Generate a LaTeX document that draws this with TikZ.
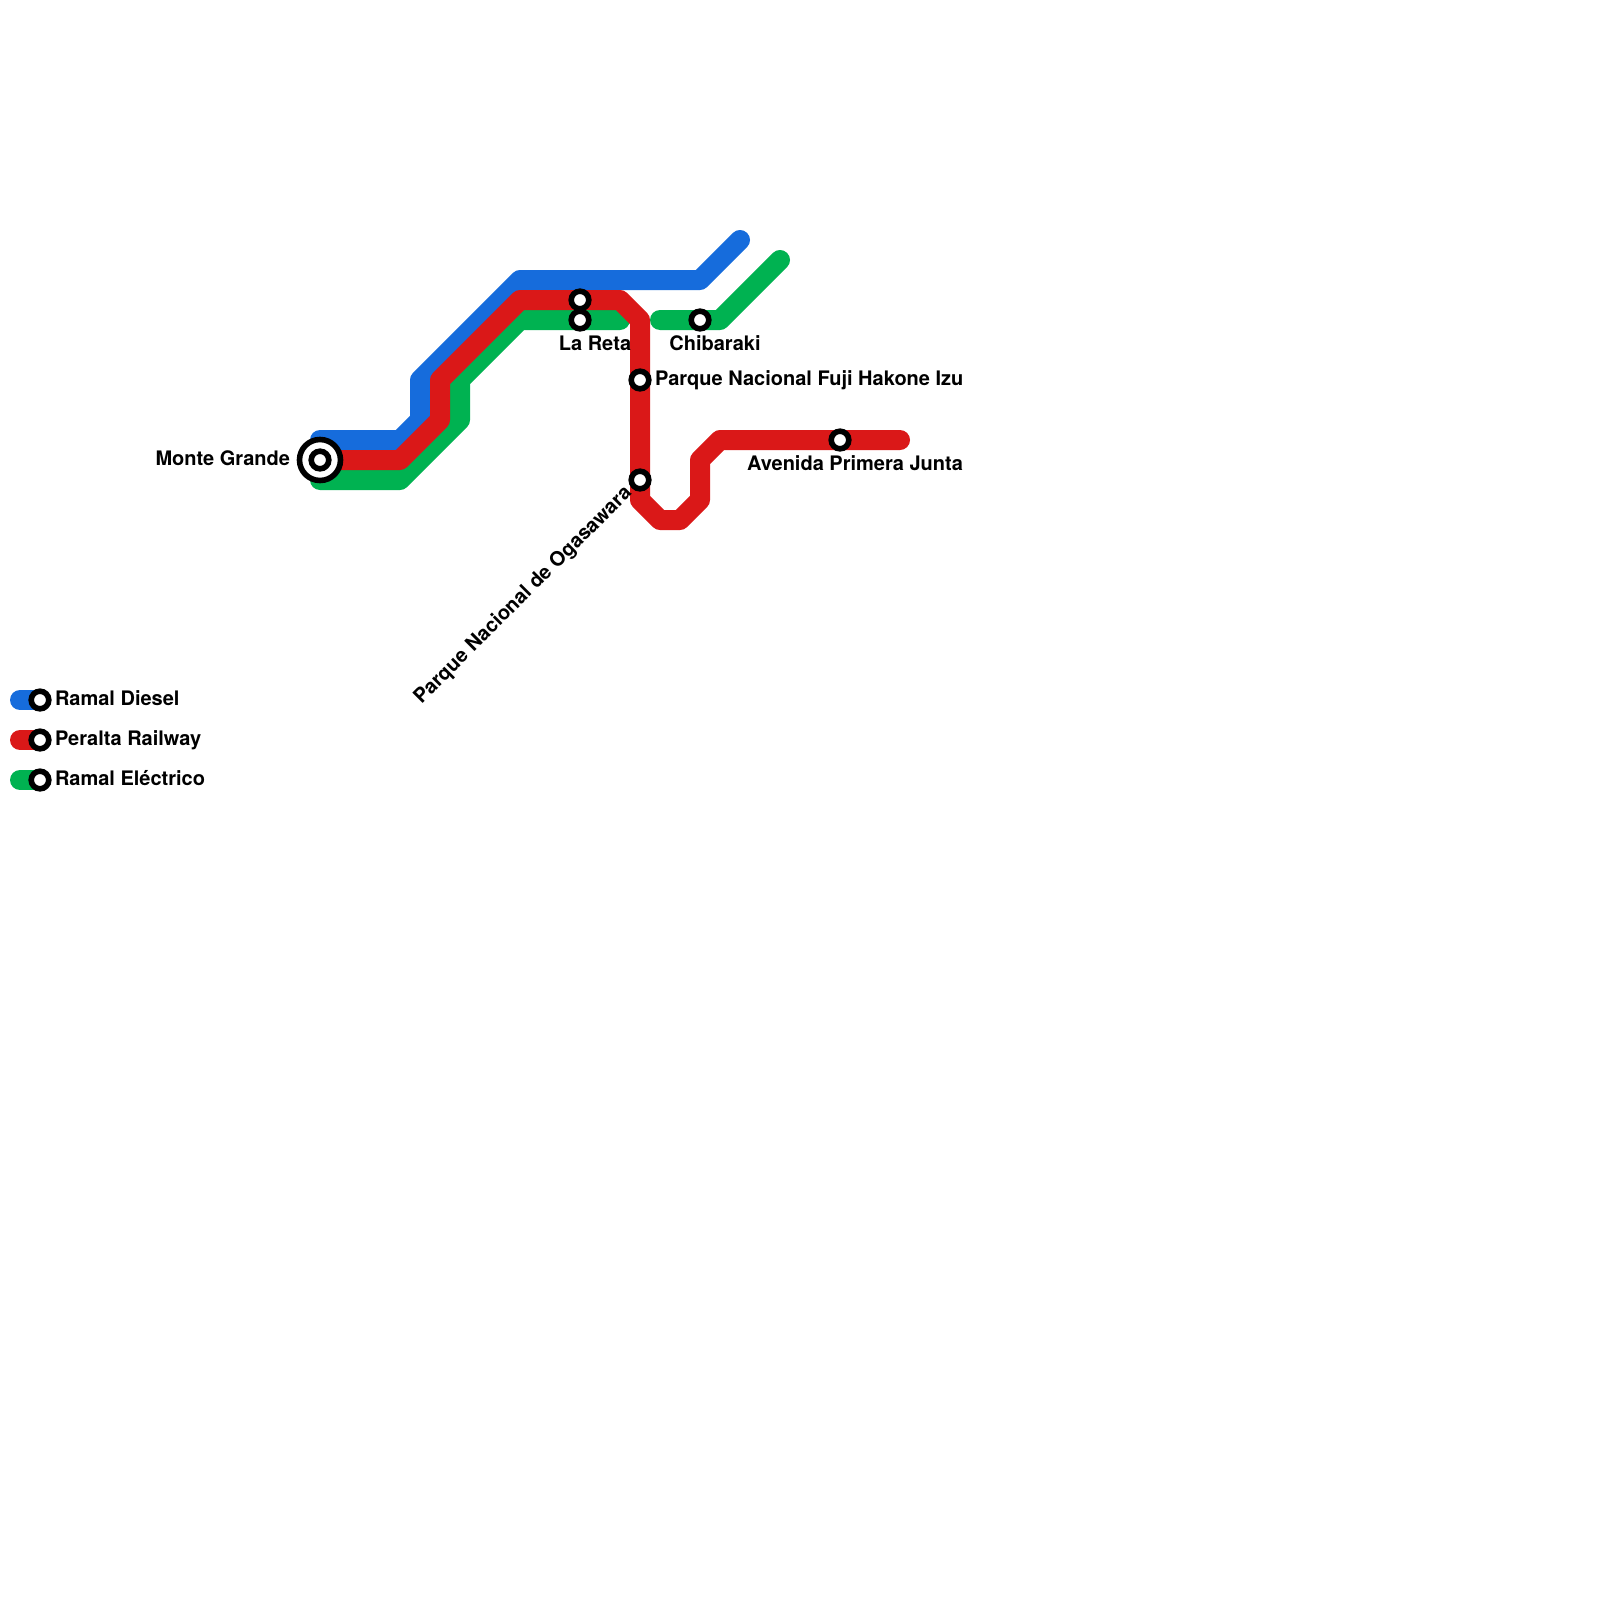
\documentclass[tikz,border=0pt]{standalone}
\usepackage{fontspec}
\setmainfont{TeX Gyre Heros}
\definecolor{dieselblue}{HTML}{166CDC}
\definecolor{peraltared}{HTML}{DA1818}
\definecolor{electricgreen}{HTML}{00B251}
\tikzset{
  metro/.style={line width=20pt,line cap=round,line join=round},
  stationdot/.style={circle,draw=black,fill=white,line width=5.6pt,minimum size=17.6pt,inner sep=0pt,outer sep=0pt},
  hubring/.style={circle,draw=black,fill=white,line width=5.6pt,minimum size=41pt,inner sep=0pt,outer sep=0pt},
  stationlabel/.style={font=\bfseries\fontsize{20}{24}\selectfont,text=black,inner sep=0pt,outer sep=0pt}
}
\begin{document}
\begin{tikzpicture}[x=1pt,y=-1pt]
\useasboundingbox[fill=white] (0,0) rectangle (1600,1600);
% shared stops
\coordinate (pMonte) at (320,460);
\coordinate (pReta1) at (580,300);
\coordinate (pReta2) at (580,320);
\coordinate (pChiba) at (700,320);
\coordinate (pFuji) at (640,380);
\coordinate (pOga) at (640,480);
\coordinate (pAve) at (840,440);
\coordinate (lgA) at (40,700);
\coordinate (lgB) at (40,740);
\coordinate (lgC) at (40,780);
% lines
\draw[metro,electricgreen] (320,480) -- (400,480) -- (460,420) -- (460,380) -- (520,320) -- (pReta2) -- (620,320);
\draw[metro,electricgreen] (660,320) -- (pChiba) -- (720,320) -- (780,260);
\draw[metro,dieselblue] (320,440) -- (400,440) -- (420,420) -- (420,380) -- (520,280) -- (700,280) -- (740,240);
\draw[metro,peraltared] (pMonte) -- (400,460) -- (440,420) -- (440,380) -- (520,300) -- (pReta1) -- (620,300) -- (640,320) -- (pFuji) -- (pOga) -- (640,500) -- (660,520) -- (680,520) -- (700,500) -- (700,460) -- (720,440) -- (pAve) -- (900,440);
% legend swatches
\draw[metro,dieselblue] (20,700) -- (lgA);
\draw[metro,peraltared] (20,740) -- (lgB);
\draw[metro,electricgreen] (20,780) -- (lgC);
% stations
\node[hubring] (monteOuter) at (pMonte) {};
\node[stationdot] (monte) at (pMonte) {};
\node[stationdot] (reta1) at (pReta1) {};
\node[stationdot] (reta2) at (pReta2) {};
\node[stationdot] (chiba) at (pChiba) {};
\node[stationdot] (fuji) at (pFuji) {};
\node[stationdot] (oga) at (pOga) {};
\node[stationdot] (ave) at (pAve) {};
\node[stationdot] (legendA) at (lgA) {};
\node[stationdot] (legendB) at (lgB) {};
\node[stationdot] (legendC) at (lgC) {};
% labels
\node[stationlabel,anchor=base east] (tMonte) at (290,465) {Monte Grande};
\node[stationlabel,anchor=base] (tReta) at (595,350) {La Reta};
\node[stationlabel,anchor=base] (tChiba) at (715,350) {Chibaraki};
\node[stationlabel,anchor=base west] (tFuji) at (655,385) {Parque Nacional Fuji Hakone Izu};
\node[stationlabel,anchor=base east] (tAve) at (963,470) {Avenida Primera Junta};
\node[stationlabel,anchor=base east,rotate=45] (tOga) at (632.5,494) {Parque Nacional de Ogasawara};
\node[stationlabel,anchor=base west] (tA) at (55,705) {Ramal Diesel};
\node[stationlabel,anchor=base west] (tB) at (55,745) {Peralta Railway};
\node[stationlabel,anchor=base west] (tC) at (55,785) {Ramal Eléctrico};
\end{tikzpicture}
\end{document}
